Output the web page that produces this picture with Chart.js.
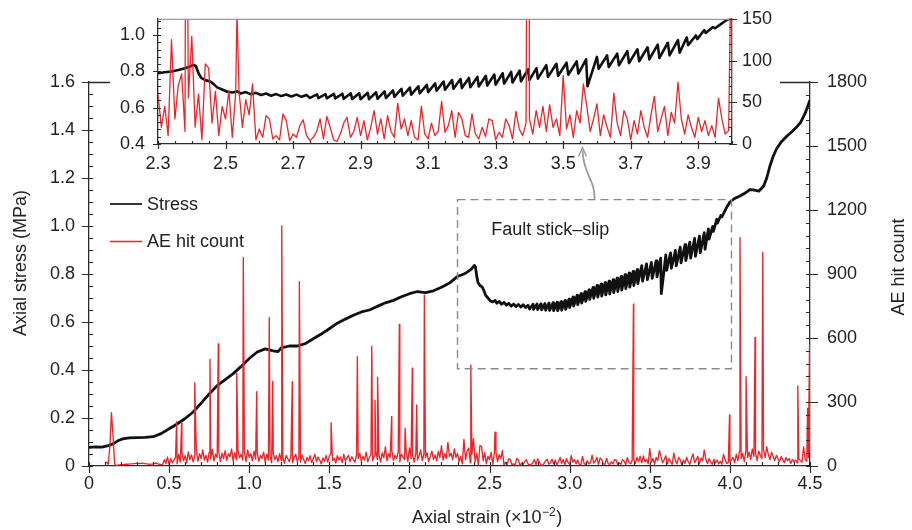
<!DOCTYPE html>
<html lang="en">
<head>
  <meta charset="UTF-8">
  <title>Axial stress and AE hit count vs axial strain</title>
  <style>
    html, body { margin: 0; padding: 0; background: #fff; }
    .wrap { position: relative; width: 912px; height: 530px; }
    #mainChart { position: absolute; left: 0; top: 0; }
    #insetChart { position: absolute; left: 100px; top: 0; }
  </style>
</head>
<body>
  <div class="wrap">
    <canvas id="mainChart" width="912" height="530"></canvas>
    <canvas id="insetChart" width="690" height="180"></canvas>
  </div>

  <script src="https://cdn.jsdelivr.net/npm/chart.js"></script>
  <script>
    // ---------- values ----------
    const mainXTicks = [0, 0.5, 1.0, 1.5, 2.0, 2.5, 3.0, 3.5, 4.0, 4.5];
    const stressTicks = [0, 0.2, 0.4, 0.6, 0.8, 1.0, 1.2, 1.4, 1.6];
    const hitTicks = [0, 300, 600, 900, 1200, 1500, 1800];
    const insetXTicks = [2.3, 2.5, 2.7, 2.9, 3.1, 3.3, 3.5, 3.7, 3.9];
    const insetStressTicks = [0.4, 0.6, 0.8, 1.0];
    const insetHitTicks = [0, 50, 100, 150];

    // axial stress curve (strain x10^-2, MPa)
    const stressStrain = [
      0, 0.04, 0.08, 0.12, 0.15,
      0.18, 0.21, 0.25, 0.30, 0.35,
      0.40, 0.45, 0.50, 0.55, 0.60,
      0.65, 0.70, 0.75, 0.80, 0.85,
      0.90, 0.95, 1.00, 1.05, 1.10,
      1.15, 1.18, 1.20, 1.25, 1.30,
      1.35, 1.40, 1.45, 1.50, 1.55,
      1.60, 1.65, 1.70, 1.75, 1.80,
      1.85, 1.90, 1.95, 2.00, 2.05,
      2.10, 2.15, 2.20, 2.25,
      // peak and stress drop
      2.300, 2.320, 2.340, 2.360, 2.380,
      2.395, 2.405, 2.412, 2.420, 2.428,
      2.440, 2.455, 2.465, 2.475, 2.490,
      2.505, 2.520, 2.535, 2.545, 2.560,
      2.575, 2.590, 2.605, 2.620, 2.635,
      2.650, 2.665, 2.680, 2.695, 2.710,
      2.725, 2.740,
      // stick-slip teeth: trough, peak
      2.750, 2.771, 2.775, 2.796, 2.800, 2.821, 2.825, 2.846, 2.850, 2.871,
      2.875, 2.896, 2.900, 2.921, 2.925, 2.946, 2.950, 2.971, 2.975, 2.996,
      3.000, 3.021, 3.025, 3.046, 3.050, 3.071, 3.075, 3.096, 3.100, 3.121,
      3.125, 3.146, 3.150, 3.171, 3.175, 3.196, 3.200, 3.221, 3.225, 3.246,
      3.250, 3.271, 3.275, 3.296, 3.300, 3.321, 3.325, 3.346, 3.350, 3.371,
      3.375, 3.396, 3.400, 3.421, 3.425, 3.450, 3.455, 3.480, 3.485, 3.510,
      3.515, 3.540, 3.545, 3.568, 3.572, 3.600, 3.605, 3.630, 3.635, 3.660,
      3.665, 3.690, 3.695, 3.720, 3.725, 3.750, 3.755, 3.780, 3.785, 3.810,
      3.815, 3.840, 3.845, 3.866, 3.870, 3.893, 3.897, 3.918, 3.922, 3.943,
      3.950, 3.965, 3.980, 3.990, 4.000,
      // after stick-slip
      4.03, 4.06, 4.09, 4.125, 4.15, 4.18,
      4.21, 4.23, 4.25, 4.27, 4.29, 4.32,
      4.355, 4.39, 4.42, 4.44, 4.47, 4.50
    ];
    const stressMPa = [
      0.078, 0.080, 0.079, 0.085, 0.092,
      0.105, 0.113, 0.117, 0.118, 0.119,
      0.122, 0.135, 0.155, 0.175, 0.198,
      0.225, 0.262, 0.300, 0.335, 0.360,
      0.385, 0.415, 0.448, 0.475, 0.488,
      0.480, 0.477, 0.492, 0.500, 0.500,
      0.510, 0.530, 0.550, 0.572, 0.595,
      0.612, 0.628, 0.642, 0.650, 0.665,
      0.680, 0.690, 0.705, 0.718, 0.727,
      0.722, 0.730, 0.745, 0.762,
      0.790, 0.795, 0.800, 0.808, 0.817,
      0.827, 0.836, 0.830, 0.790, 0.765,
      0.752, 0.745, 0.730, 0.712, 0.700,
      0.688, 0.684, 0.690, 0.678, 0.686,
      0.674, 0.682, 0.670, 0.678, 0.666,
      0.675, 0.664, 0.673, 0.662, 0.672,
      0.660, 0.670,
      0.654, 0.674, 0.653, 0.675, 0.652, 0.676, 0.651, 0.677, 0.649, 0.679,
      0.648, 0.680, 0.647, 0.682, 0.647, 0.685, 0.649, 0.690, 0.653, 0.695,
      0.660, 0.704, 0.666, 0.711, 0.672, 0.718, 0.679, 0.726, 0.686, 0.734,
      0.694, 0.744, 0.699, 0.752, 0.704, 0.758, 0.708, 0.764, 0.713, 0.770,
      0.717, 0.776, 0.722, 0.783, 0.727, 0.790, 0.733, 0.797, 0.739, 0.804,
      0.745, 0.811, 0.752, 0.818, 0.760, 0.835, 0.770, 0.842, 0.776, 0.848,
      0.782, 0.855, 0.788, 0.866, 0.718, 0.880, 0.815, 0.888, 0.824, 0.898,
      0.834, 0.912, 0.846, 0.922, 0.856, 0.933, 0.866, 0.948, 0.874, 0.958,
      0.888, 0.972, 0.903, 0.988, 0.945, 0.998, 0.978, 1.028, 1.012, 1.044,
      1.038, 1.058, 1.078, 1.088, 1.100,
      1.115, 1.124, 1.135, 1.152, 1.150, 1.145,
      1.166, 1.200, 1.250, 1.290, 1.320, 1.350,
      1.374, 1.395, 1.415, 1.430, 1.470, 1.525
    ];

    // AE hit count, sampled every 0.01 strain from the given start
    const aeStartA = 0.10;
    const aeHitsA = [
      15, 18, 8, 90, 250, 140, 10, 2, 4, 5,
      6, 6, 7, 8, 8, 9, 10, 10, 11, 12,
      12, 11, 12, 13, 12, 11, 10, 9, 8, 9,
      10, 12, 14, 10, 8, 6
    ];
    const aeStartB = 0.46;
    const aeHitsB = [
      8, 30, 12, 42, 6, 35, 14, 28, 40, 10,
      55, 18, 62, 25, 48, 15, 66, 30, 52, 20,
      45, 70, 22, 58, 35, 75, 28, 50, 18, 64,
      32, 78, 24, 55, 40, 68, 20, 60, 35, 72,
      26, 58, 44, 80, 22, 62, 30, 70, 38, 55,
      28, 66, 20, 75, 40, 58, 24, 70, 32, 60,
      22, 50, 36, 65, 18, 55, 28, 45, 15, 60,
      30, 48, 20, 58, 25, 42, 12, 50, 35, 20,
      45, 15, 38, 55, 22, 40, 18, 52, 30, 12,
      40, 25, 48, 16, 35, 55, 20, 42, 28, 10,
      38, 22, 50, 18, 45, 60, 25, 36, 14, 48,
      28, 42, 16, 55, 24, 38, 50, 20, 44, 30,
      18, 52, 35, 60, 22, 45, 28, 65, 20, 40,
      55, 25, 48, 70, 30, 52, 18, 62, 38, 90,
      24, 58, 40, 72, 26, 50, 35, 68, 20, 55,
      42, 30, 65, 22, 85, 35, 50, 18, 60, 28,
      48, 75, 25, 55, 38, 62, 20, 45, 70, 30,
      52, 24, 68, 40, 95, 28, 58, 35, 110, 45,
      60, 30, 80, 40
    ];
    const aeStartC = 2.30;
    const aeHitsC = [
      59, 20, 45, 10, 125, 30, 70, 84, 15, 55,
      129, 20, 60, 5, 96, 91, 25, 63, 10, 45,
      30, 64, 8, 61, 63, 20, 53, 35, 72, 5,
      18, 8, 34, 30, 6, 10, 5, 36, 28, 4,
      12, 8, 22, 29, 10, 4, 8, 15, 30, 6,
      33, 20, 5, 3, 12, 25, 32, 8, 15, 32,
      10, 28, 5, 20, 40, 12, 30, 6, 34, 15,
      8, 49, 18, 30, 10, 28, 8, 5, 45, 12,
      6, 25, 10, 15, 51, 14, 22, 40, 8, 38,
      30, 10, 8, 36, 12, 6, 20, 9, 30, 28,
      5, 14, 8, 30, 22, 6, 39, 18, 10, 25,
      30, 12, 40, 20, 45, 15, 47, 20, 30, 10,
      82, 18, 35, 8, 40, 25, 72, 45, 15, 30,
      48, 10, 35, 20, 8, 61, 25, 10, 40, 30,
      5, 28, 12, 40, 20, 8, 35, 57, 15, 30,
      45, 10, 38, 25, 74, 30, 12, 35, 20, 8,
      32, 15, 28, 10, 22, 8, 55, 30, 12, 16,
      20
    ];
    const aeStartD = 4.01;
    const aeHitsD = [
      30, 40, 15, 55, 25, 70, 35, 60, 20, 75,
      40, 65, 30, 80, 45, 60, 25, 70, 50, 35,
      75, 40, 90, 55, 30, 65, 45, 25, 50, 35,
      20, 45, 30, 15, 40, 25, 35, 12, 30, 20,
      28, 15, 35, 25, 18, 90, 30, 22, 40, 60
    ];
    // large AE bursts
    const spikeStrain = [
      0.547, 0.578, 0.660, 0.755, 0.807,
      0.922, 0.963, 1.047, 1.125, 1.147,
      1.203, 1.269, 1.313, 1.511, 1.675,
      1.765, 1.785, 1.801, 1.889, 1.937,
      1.973, 2.018, 2.045, 2.093, 2.383,
      2.534, 3.398, 3.998, 4.063, 4.101,
      4.157, 4.205, 4.424, 4.485, 4.497
    ];
    const spikeHits = [
      208, 200, 390, 500, 572,
      434, 978, 348, 697, 398,
      1125, 395, 864, 203, 512,
      562, 309, 416, 231, 664,
      177, 458, 286, 801, 473,
      158, 758, 239, 1070, 419,
      603, 1002, 375, 270, 567
    ];

    // ---------- build point lists ----------
    const sampled = (start, vals) =>
      vals.map((v, i) => ({ x: Math.round((start + i * 0.01) * 1000) / 1000, y: v }));

    const aePoints = [
      ...sampled(aeStartA, aeHitsA),
      ...sampled(aeStartB, aeHitsB),
      ...sampled(aeStartC, aeHitsC),
      ...sampled(aeStartD, aeHitsD),
      ...spikeStrain.map((x, i) => ({ x: x, y: spikeHits[i] }))
    ].sort((a, b) => a.x - b.x);

    const stressPoints = stressStrain.map((x, i) => ({ x: x, y: stressMPa[i] }));

    // ---------- style ----------
    const RED = '#e8262b';
    const INK = '#222';
    const AXIS = '#2b2b2b';
    const FONT = '"Liberation Sans", Arial, Helvetica, sans-serif';
    Chart.defaults.font.family = FONT;
    Chart.defaults.font.size = 18;
    Chart.defaults.color = INK;

    const fmt1 = v => (v === 0 ? '0' : v.toFixed(1));

    function steps(a, b, d) {
      const out = [];
      for (let v = a; v <= b + 1e-9; v += d) out.push(Math.round(v * 1000) / 1000);
      return out;
    }

    function tickMarks(ctx, area, scale, values, outer, inner) {
      ctx.beginPath();
      values.forEach(v => {
        const p = Math.round(scale.getPixelForValue(v)) + 0.5;
        if (scale.isHorizontal()) {
          ctx.moveTo(p, area.bottom - inner);
          ctx.lineTo(p, area.bottom + outer);
        } else if (scale.position === 'left') {
          ctx.moveTo(area.left - outer, p);
          ctx.lineTo(area.left + inner, p);
        } else {
          ctx.moveTo(area.right + outer, p);
          ctx.lineTo(area.right - inner, p);
        }
      });
      ctx.stroke();
    }

    function axisOpts(extra) {
      return Object.assign({
        type: 'linear',
        grid: { display: false, drawTicks: true, tickLength: 7 },
        border: { display: true, color: AXIS, width: 1.3 },
        ticks: { autoSkip: false, maxRotation: 0, color: INK, font: { size: 18 } }
      }, extra);
    }

    // ---------- main chart decorations ----------
    const mainDecor = {
      id: 'mainDecor',
      afterDraw(chart) {
        const { ctx, chartArea: a } = chart;
        const { x, yL, yR } = chart.scales;
        ctx.save();
        ctx.strokeStyle = AXIS;
        ctx.lineWidth = 1.2;
        tickMarks(ctx, a, x, mainXTicks, 7, 0);
        tickMarks(ctx, a, x, steps(0, 4.5, 0.1), 0, 4);
        tickMarks(ctx, a, yL, stressTicks, 7, 3);
        tickMarks(ctx, a, yL, steps(0, 1.6, 0.05), 0, 4);
        tickMarks(ctx, a, yR, hitTicks, 8, 3);
        tickMarks(ctx, a, yR, steps(0, 1800, 60), 0, 4);

        // top frame, visible only beside the inset
        ctx.lineWidth = 1.3;
        ctx.beginPath();
        ctx.moveTo(a.left, a.top + 0.5); ctx.lineTo(a.left + 21, a.top + 0.5);
        ctx.moveTo(a.right - 30, a.top + 0.5); ctx.lineTo(a.right, a.top + 0.5);
        ctx.stroke();

        // legend
        ctx.lineWidth = 2;
        ctx.strokeStyle = '#333';
        ctx.beginPath(); ctx.moveTo(a.left + 21, 204); ctx.lineTo(a.left + 53, 204); ctx.stroke();
        ctx.lineWidth = 1.5;
        ctx.strokeStyle = RED;
        ctx.beginPath(); ctx.moveTo(a.left + 21, 241.5); ctx.lineTo(a.left + 53, 241.5); ctx.stroke();
        ctx.fillStyle = INK;
        ctx.font = '18px ' + FONT;
        ctx.textAlign = 'left';
        ctx.textBaseline = 'middle';
        ctx.fillText('Stress', a.left + 58, 205);
        ctx.fillText('AE hit count', a.left + 58, 242);

        // dashed box around the stick-slip stage
        const bx0 = x.getPixelForValue(2.3), bx1 = x.getPixelForValue(4.01);
        const by0 = yL.getPixelForValue(1.11), by1 = yL.getPixelForValue(0.405);
        ctx.strokeStyle = '#8a8a8a';
        ctx.lineWidth = 1.4;
        ctx.setLineDash([8, 5]);
        ctx.strokeRect(bx0, by0, bx1 - bx0, by1 - by0);
        ctx.setLineDash([]);
        ctx.fillStyle = INK;
        ctx.textBaseline = 'alphabetic';
        ctx.fillText('Fault stick\u2013slip', x.getPixelForValue(2.51), yL.getPixelForValue(0.964));

        // arrow up to the inset
        const sx = x.getPixelForValue(3.155), tx = x.getPixelForValue(3.08);
        const ty = yL.getPixelForValue(1.327);
        ctx.strokeStyle = '#9a9a9a';
        ctx.lineWidth = 1.8;
        ctx.beginPath();
        ctx.moveTo(sx, by0);
        ctx.bezierCurveTo(sx + 1, by0 - 20, tx + 1, by0 - 24, tx, ty + 3);
        ctx.stroke();
        ctx.lineWidth = 1.4;
        ctx.beginPath();
        ctx.moveTo(tx - 4, ty + 9); ctx.lineTo(tx, ty); ctx.lineTo(tx + 4, ty + 9);
        ctx.stroke();

        // axis titles
        ctx.fillStyle = INK;
        ctx.font = '18px ' + FONT;
        ctx.textAlign = 'center';
        ctx.textBaseline = 'middle';
        ctx.save();
        ctx.translate(21, 263); ctx.rotate(-Math.PI / 2);
        ctx.fillText('Axial stress (MPa)', 0, 0);
        ctx.restore();
        ctx.save();
        ctx.translate(899, 267); ctx.rotate(-Math.PI / 2);
        ctx.fillText('AE hit count', 0, 0);
        ctx.restore();

        ctx.textAlign = 'left';
        ctx.textBaseline = 'alphabetic';
        let tx0 = 412;
        const part1 = 'Axial strain (\u00d710';
        ctx.fillText(part1, tx0, 523);
        tx0 += ctx.measureText(part1).width;
        ctx.font = '12px ' + FONT;
        ctx.fillText('\u22122', tx0 + 0.5, 516);
        tx0 += ctx.measureText('\u22122').width + 1;
        ctx.font = '18px ' + FONT;
        ctx.fillText(')', tx0, 523);
        ctx.restore();
      }
    };

    // ---------- inset decorations ----------
    const insetDecor = {
      id: 'insetDecor',
      afterDraw(chart) {
        const { ctx, chartArea: a } = chart;
        const { x, yL, yR } = chart.scales;
        ctx.save();
        ctx.strokeStyle = '#9a9a9a';
        ctx.lineWidth = 1.2;
        ctx.beginPath();
        ctx.moveTo(a.left, a.top + 0.5); ctx.lineTo(a.right, a.top + 0.5);
        ctx.stroke();
        ctx.strokeStyle = AXIS;
        ctx.lineWidth = 1.2;
        tickMarks(ctx, a, x, insetXTicks, 5, 3);
        tickMarks(ctx, a, x, steps(2.3, 4.0, 0.05), 0, 3);
        tickMarks(ctx, a, yL, insetStressTicks, 5, 3);
        tickMarks(ctx, a, yL, steps(0.4, 1.08, 0.04), 0, 3);
        tickMarks(ctx, a, yR, insetHitTicks, 5, 3);
        tickMarks(ctx, a, yR, steps(0, 150, 10), 0, 3);
        ctx.restore();
      }
    };

    const aeDataset = (pts, w) => ({
      label: 'AE hit count',
      data: pts,
      yAxisID: 'yR',
      borderColor: RED,
      borderWidth: w,
      pointRadius: 0,
      borderJoinStyle: 'round',
      tension: 0
    });
    const stressDataset = (pts, w) => ({
      label: 'Stress',
      data: pts,
      yAxisID: 'yL',
      borderColor: '#111',
      borderWidth: w,
      pointRadius: 0,
      borderJoinStyle: 'round',
      tension: 0
    });

    window.addEventListener('load', () => {
      new Chart(document.getElementById('mainChart').getContext('2d'), {
        type: 'line',
        data: { datasets: [aeDataset(aePoints, 1.35), stressDataset(stressPoints, 2.8)] },
        options: {
          responsive: false,
          animation: false,
          layout: { padding: { top: 82, left: 0, right: 0, bottom: 0 } },
          plugins: { legend: { display: false }, tooltip: { enabled: false } },
          scales: {
            x: axisOpts({
              position: 'bottom', min: 0, max: 4.5,
              afterBuildTicks: s => { s.ticks = mainXTicks.map(v => ({ value: v })); },
              afterFit: s => { s.height = 64; },
              ticks: { autoSkip: false, maxRotation: 0, padding: 0, callback: v => fmt1(v) }
            }),
            yL: axisOpts({
              position: 'left', min: 0, max: 1.6,
              afterBuildTicks: s => { s.ticks = stressTicks.map(v => ({ value: v })); },
              afterFit: s => { s.width = 89; },
              ticks: { autoSkip: false, padding: 7, callback: v => fmt1(v) }
            }),
            yR: axisOpts({
              position: 'right', min: 0, max: 1800,
              grid: { display: false, drawTicks: true, tickLength: 8 },
              afterBuildTicks: s => { s.ticks = hitTicks.map(v => ({ value: v })); },
              afterFit: s => { s.width = 102; },
              ticks: { autoSkip: false, padding: 9, callback: v => String(v) }
            })
          }
        },
        plugins: [mainDecor]
      });

      new Chart(document.getElementById('insetChart').getContext('2d'), {
        type: 'line',
        data: { datasets: [aeDataset(aePoints, 1.3), stressDataset(stressPoints, 2.6)] },
        options: {
          responsive: false,
          animation: false,
          layout: { padding: { top: 15, left: 0, right: 0, bottom: 0 } },
          plugins: { legend: { display: false }, tooltip: { enabled: false } },
          scales: {
            x: axisOpts({
              position: 'bottom', min: 2.3, max: 4.0,
              grid: { display: false, drawTicks: true, tickLength: 5 },
              afterBuildTicks: s => { s.ticks = insetXTicks.map(v => ({ value: v })); },
              afterFit: s => { s.height = 36; },
              ticks: { autoSkip: false, maxRotation: 0, padding: 4, callback: v => v.toFixed(1) }
            }),
            yL: axisOpts({
              position: 'left', min: 0.4, max: 1.09,
              grid: { display: false, drawTicks: true, tickLength: 5 },
              afterBuildTicks: s => { s.ticks = insetStressTicks.map(v => ({ value: v })); },
              afterFit: s => { s.width = 58; },
              ticks: { autoSkip: false, padding: 8, callback: v => v.toFixed(1) }
            }),
            yR: axisOpts({
              position: 'right', min: 0, max: 150,
              grid: { display: false, drawTicks: true, tickLength: 5 },
              afterBuildTicks: s => { s.ticks = insetHitTicks.map(v => ({ value: v })); },
              afterFit: s => { s.width = 58; },
              ticks: { autoSkip: false, padding: 5, callback: v => String(v) }
            })
          }
        },
        plugins: [insetDecor]
      });
    });
  </script>
</body>
</html>
